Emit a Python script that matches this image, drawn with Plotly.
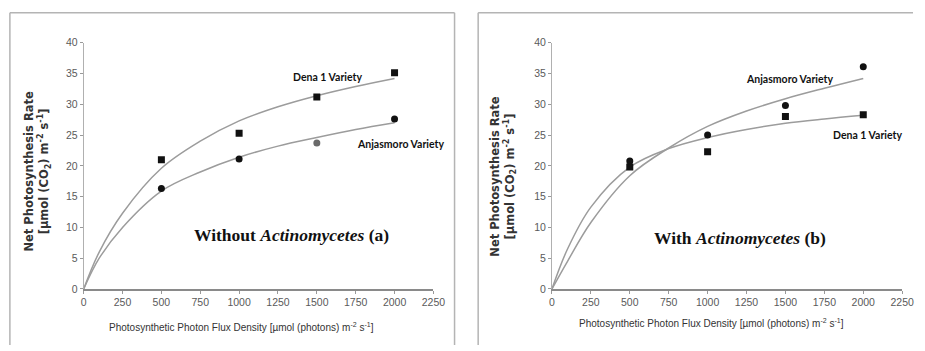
import plotly.graph_objects as go

# Measured points (PPFD, µmol photons m-2 s-1)
ppfd = [500, 1000, 1500, 2000]

# Panel (a): without Actinomycetes
a_dena = [21.0, 25.3, 31.2, 35.1]
a_anjasmoro = [16.3, 21.1, 23.7, 27.6]

# Panel (b): with Actinomycetes
b_anjasmoro = [20.8, 25.0, 29.8, 36.1]
b_dena = [19.8, 22.3, 28.0, 28.3]

# Light-response trend curves
curve_x = [0, 100, 250, 500, 750, 1000, 1250, 1500, 1750, 2000]
a_dena_curve = [0, 6.0, 12.3, 19.6, 24.0, 27.3, 29.6, 31.4, 32.9, 34.2]
a_anjasmoro_curve = [0, 5.0, 10.0, 15.9, 19.0, 21.4, 23.2, 24.6, 25.9, 27.0]
b_dena_curve = [0, 6.5, 13.3, 19.8, 22.8, 24.6, 25.9, 26.9, 27.6, 28.2]
b_anjasmoro_curve = [0, 4.5, 10.8, 18.4, 22.9, 26.4, 28.9, 30.9, 32.6, 34.2]

x_ticks = [0, 250, 500, 750, 1000, 1250, 1500, 1750, 2000, 2250]
y_ticks = [0, 5, 10, 15, 20, 25, 30, 35, 40]

W, H = 925, 351


def px(x):
    return x / W


def py(y):
    return 1 - y / H


CURVE = dict(color="#9c9c9c", width=1.5)
TICKFONT = dict(family="Liberation Sans Narrow, Arial Narrow, Liberation Sans, Arial", size=10.5, color="#5a5a5a")

fig = go.Figure()

# panel (a)
fig.add_trace(go.Scatter(x=curve_x, y=a_dena_curve, mode="lines", line=dict(shape="spline", **CURVE),
                         xaxis="x", yaxis="y", hoverinfo="skip"))
fig.add_trace(go.Scatter(x=curve_x, y=a_anjasmoro_curve, mode="lines", line=dict(shape="spline", **CURVE),
                         xaxis="x", yaxis="y", hoverinfo="skip"))
fig.add_trace(go.Scatter(x=ppfd, y=a_dena, mode="markers", name="Dena 1",
                         marker=dict(symbol="square", size=7, color="#111111"), xaxis="x", yaxis="y"))
fig.add_trace(go.Scatter(x=ppfd, y=a_anjasmoro, mode="markers", name="Anjasmoro",
                         marker=dict(symbol="circle", size=7, color=["#111111", "#111111", "#6a6a6a", "#111111"]),
                         xaxis="x", yaxis="y"))

# panel (b)
fig.add_trace(go.Scatter(x=curve_x, y=b_dena_curve, mode="lines", line=dict(shape="spline", **CURVE),
                         xaxis="x2", yaxis="y2", hoverinfo="skip"))
fig.add_trace(go.Scatter(x=curve_x, y=b_anjasmoro_curve, mode="lines", line=dict(shape="spline", **CURVE),
                         xaxis="x2", yaxis="y2", hoverinfo="skip"))
fig.add_trace(go.Scatter(x=ppfd, y=b_dena, mode="markers", name="Dena 1",
                         marker=dict(symbol="square", size=7, color="#111111"), xaxis="x2", yaxis="y2"))
fig.add_trace(go.Scatter(x=ppfd, y=b_anjasmoro, mode="markers", name="Anjasmoro",
                         marker=dict(symbol="circle", size=7, color="#111111"), xaxis="x2", yaxis="y2"))

y_dom = [py(293), py(38)]


def xaxis(dom, anchor):
    return dict(domain=dom, anchor=anchor, range=[0, 2250], tickvals=x_ticks, ticks="outside", ticklen=3,
                tickcolor="#999999", showline=True, linecolor="#8a8a8a", linewidth=1.5, showgrid=False,
                zeroline=False, tickfont=TICKFONT)


def yaxis(anchor):
    return dict(domain=y_dom, anchor=anchor, range=[0, 40], tickvals=y_ticks, ticks="outside", ticklen=3,
                tickcolor="#999999", showline=True, linecolor="#b0b0b0", linewidth=1, showgrid=False,
                zeroline=False, tickfont=TICKFONT)


fig.update_layout(
    width=W, height=H, margin=dict(l=0, r=0, t=0, b=0),
    paper_bgcolor="white", plot_bgcolor="white", showlegend=False,
    xaxis=xaxis([px(82), px(437.5)], "y"),
    yaxis=yaxis("x"),
    xaxis2=xaxis([px(558), px(914)], "y2"),
    yaxis2=yaxis("x2"),
)

# panel frames
frame = dict(color="#b4b4b4", width=1.5)
shapes = [
    dict(type="line", xref="paper", yref="paper", x0=px(7), x1=px(459), y0=py(7), y1=py(7), line=frame),
    dict(type="line", xref="paper", yref="paper", x0=px(7), x1=px(7), y0=py(7), y1=0, line=frame),
    dict(type="line", xref="paper", yref="paper", x0=px(459), x1=px(459), y0=py(7), y1=0, line=frame),
    dict(type="line", xref="paper", yref="paper", x0=px(483), x1=1, y0=py(7), y1=py(7), line=frame),
    dict(type="line", xref="paper", yref="paper", x0=px(483), x1=px(483), y0=py(7), y1=0, line=frame),
]
fig.update_layout(shapes=shapes)

LABEL = dict(family="Lato, Carlito, Calibri, sans-serif", size=10.5, color="#111111")
TITLE = dict(family="Liberation Serif, Times New Roman, serif", size=17.5, color="#111111")
AXT = dict(family="DejaVu Sans, Arial, sans-serif", size=11.5, color="#333333")
XT = dict(family="Liberation Sans Narrow, Arial Narrow, Liberation Sans, Arial", size=10, color="#333333")

ytitle = "<b>Net Photosynthesis Rate</b><br><b>[µmol (CO<sub>2</sub>) m<sup>-2</sup> s<sup>-1</sup>]</b>"
xtitle = "Photosynthetic Photon Flux Density [µmol (photons) m<sup>-2</sup> s<sup>-1</sup>]"


def ann(text, x, y, font, **kw):
    return dict(text=text, x=px(x), y=py(y), xref="paper", yref="paper", showarrow=False,
                xanchor="center", yanchor="middle", font=font, **kw)


annotations = [
    ann("<b>Dena 1 Variety</b>", 329.5, 73, LABEL),
    ann("<b>Anjasmoro Variety</b>", 404, 143, LABEL),
    ann("<b>Without <i>Actinomycetes</i> (a)</b>", 293, 237, TITLE),
    ann("<b>Anjasmoro Variety</b>", 799.5, 76, LABEL),
    ann("<b>Dena 1 Variety</b>", 879, 134, LABEL),
    ann("<b>With <i>Actinomycetes</i> (b)</b>", 749.5, 240, TITLE),
    ann(ytitle, 35, 171, AXT, textangle=-90),
    ann(ytitle, 508, 176, AXT, textangle=-90),
    ann(xtitle, 242, 332, XT),
    ann(xtitle, 720.5, 328, XT),
]
fig.update_layout(annotations=annotations)

fig.write_html("out.html")
